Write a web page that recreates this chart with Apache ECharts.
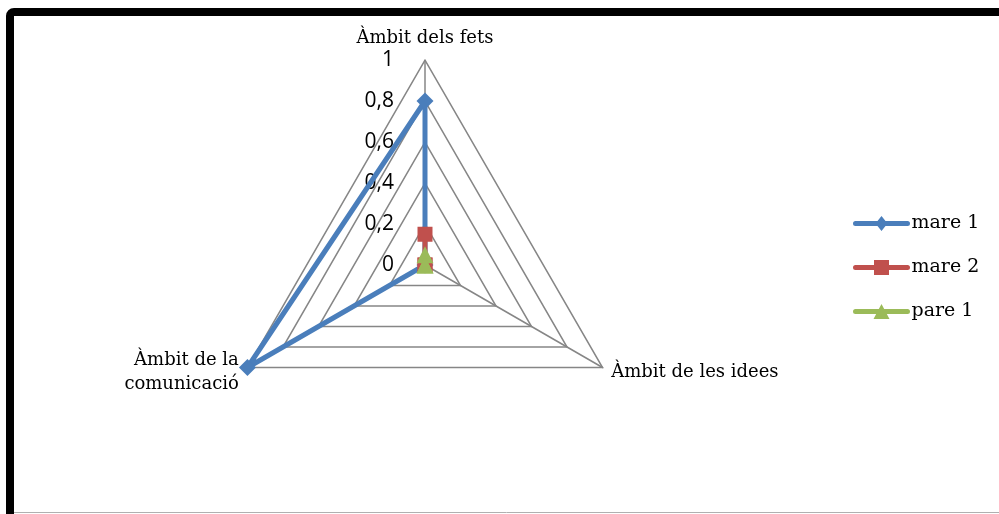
<!DOCTYPE html>
<html>
<head>
<meta charset="utf-8">
<script src="https://cdn.jsdelivr.net/npm/echarts@6/dist/echarts.min.js"></script>
<style>
  html, body { margin: 0; padding: 0; background: #fff; }
  #chart { width: 999px; height: 514px; }
</style>
</head>
<body>
<div id="chart"></div>
<script>
// eixos del radar (ordre horari com a l'original)
const categories = ['Àmbit dels fets', 'Àmbit de les idees', 'Àmbit de la\ncomunicació']
const mare1 = [0.8, 0, 1]
const mare2 = [0.15, 0, 0]
const pare1 = [0.05, 0, 0]
const tickValues = [0, 0.2, 0.4, 0.6, 0.8, 1]
const tickLabels = ['0', '0,2', '0,4', '0,6', '0,8', '1']

const colors = ['#4A7EBB', '#C0504D', '#9BBB59']
const symbols = ['diamond', 'rect', 'triangle']
const names = ['mare 1', 'mare 2', 'pare 1']
const values = [mare1, mare2, pare1]

const serif = '"DejaVu Serif", "Liberation Serif", serif'

// ECharts va en sentit antihorari, per això invertim l'ordre dels eixos 2 i 3
const order = [0, 2, 1]

// icones de llegenda: línia gruixuda + marcador al mig (caixa 58x15)
const bar = 'M3,5 L55,5 A2.5,2.5 0 0 1 55,10 L3,10 A2.5,2.5 0 0 1 3,5 Z '
const legendIcons = [
  'path://' + bar + 'M29,0 L35,7.5 L29,15 L23,7.5 Z',
  'path://' + bar + 'M21.5,0 L36.5,0 L36.5,15 L21.5,15 Z',
  'path://' + bar + 'M29,0 L37,15 L21,15 Z'
]

const chart = echarts.init(document.getElementById('chart'), null, { renderer: 'canvas' })

const radarSeries = names.map((name, i) => ({
  type: 'radar',
  name,
  symbol: symbols[i],
  symbolSize: i === 1 ? 15 : 17,
  z: 3 + i,
  itemStyle: { color: colors[i] },
  lineStyle: { color: colors[i], width: 5 },
  data: [{ name, value: order.map(k => values[i][k]) }]
}))

chart.setOption({
  backgroundColor: '#fff',
  animation: false,
  graphic: [{
    type: 'line',
    shape: { x1: 14, y1: 512.5, x2: 999, y2: 512.5 },
    style: { stroke: '#b0b0b0', lineWidth: 1 }
  }, {
    type: 'rect',
    shape: { x: 10, y: 12, width: 1000, height: 530, r: 4 },
    style: { fill: null, stroke: '#000', lineWidth: 8 }
  }],
  legend: {
    orient: 'vertical',
    left: 848,
    top: 209,
    itemWidth: 58,
    itemHeight: 15,
    itemGap: 25,
    data: names.map((name, i) => ({ name, icon: legendIcons[i] })),
    textStyle: { fontFamily: serif, fontSize: 19, color: '#000', padding: [0, 0, 0, -4] }
  },
  // rejilla invisible per a les etiquetes de l'eix vertical
  grid: { left: 402, top: 60, width: 40, height: 205 },
  xAxis: { type: 'value', show: false },
  yAxis: {
    type: 'value',
    min: 0,
    max: 1,
    interval: 0.2,
    axisLine: { show: false },
    axisTick: { show: false },
    splitLine: { show: false },
    axisLabel: {
      margin: 8,
      fontFamily: '"Open Sans", "Liberation Sans", sans-serif',
      fontSize: 21,
      color: '#000',
      formatter: v => tickLabels[tickValues.findIndex(t => Math.abs(t - v) < 1e-6)]
    }
  },
  radar: {
    center: [425, 265],
    radius: 205,
    startAngle: 90,
    shape: 'polygon',
    splitNumber: 5,
    indicator: order.map(k => ({ name: categories[k], min: 0, max: 1 })),
    axisName: { color: '#000', fontFamily: serif, fontSize: 18, lineHeight: 24 },
    nameGap: 10,
    axisLine: { lineStyle: { color: '#868686', width: 1.5 } },
    splitLine: { lineStyle: { color: '#868686', width: 1.5 } },
    splitArea: { show: false },
    axisTick: { show: false },
    axisLabel: { show: false }
  },
  series: radarSeries
})
</script>
</body>
</html>
